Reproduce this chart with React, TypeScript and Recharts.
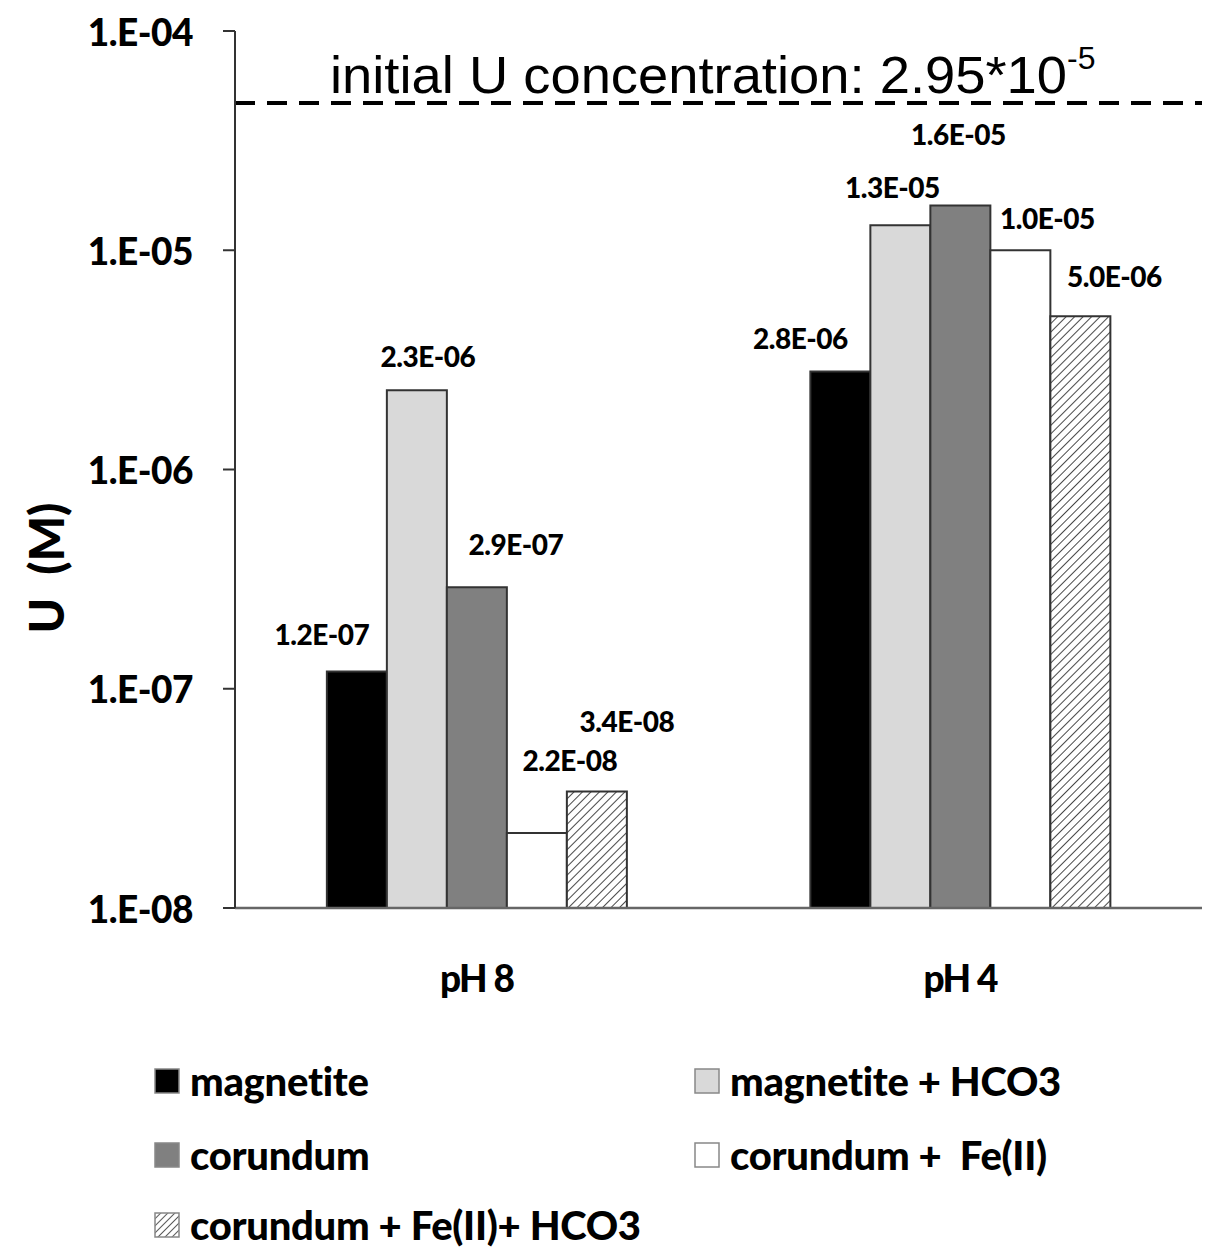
import React from "react";
import { BarChart, Bar, XAxis, YAxis, ReferenceLine, LabelList } from "recharts";

// ---- data ----
const categories = ["pH 8", "pH 4"];
const seriesNames = [
  "magnetite",
  "magnetite + HCO3",
  "corundum",
  "corundum +  Fe(II)",
  "corundum + Fe(II)+ HCO3",
];
const magnetite = [1.2e-7, 2.8e-6];
const magnetiteHCO3 = [2.3e-6, 1.3e-5];
const corundum = [2.9e-7, 1.6e-5];
const corundumFe = [2.2e-8, 1.0e-5];
const corundumFeHCO3 = [3.4e-8, 5.0e-6];
const yTicks = [1e-8, 1e-7, 1e-6, 1e-5, 1e-4];
const yTickLabels = ["1.E-08", "1.E-07", "1.E-06", "1.E-05", "1.E-04"];
const initialLineLevel = 4.7e-5; // where the dashed line is drawn
const initialLabelMain = "initial U concentration: 2.95*10";
const initialLabelExp = "-5";
const yAxisTitle = "U  (M)";

const seriesValues = [magnetite, magnetiteHCO3, corundum, corundumFe, corundumFeHCO3];
const keys = ["s0", "s1", "s2", "s3", "s4"];
const data = categories.map((c, i) => {
  const row: any = { name: c };
  keys.forEach((k, j) => (row[k] = seriesValues[j][i]));
  return row;
});

// ---- styles ----
const fills = ["#000000", "#d9d9d9", "#808080", "#ffffff", "url(#hatch)"];
const boldFont = "Lato, 'Open Sans', sans-serif";
// label offsets (dx, dy) from bar top-center for each series per category
const labelOffsets = [
  [[-35, -37], [-40, -33]],
  [[11, -34], [-8, -38]],
  [[39, -43], [-2, -71]],
  [[33, -73], [27, -32]],
  [[30, -70], [34, -40]],
];

const fmt = (v: number) => {
  const [m, e] = v.toExponential(1).split("e");
  const n = parseInt(e, 10);
  const sign = n < 0 ? "-" : "+";
  const abs = Math.abs(n);
  return `${m}E${sign}${abs < 10 ? "0" + abs : abs}`;
};

const makeLabel = (si: number) => (props: any) => {
  const { x, y, width, value, index } = props;
  const [dx, dy] = labelOffsets[si][index];
  return (
    <text
      x={x + width / 2 + dx}
      y={y + dy}
      textAnchor="middle"
      dominantBaseline="central"
      fontFamily={boldFont}
      fontWeight={900}
      fontSize={28}
      letterSpacing={-0.5}
      fill="#000"
    >
      {fmt(value)}
    </text>
  );
};

const YTick = (props: any) => {
  const { x, y, payload } = props;
  const idx = yTicks.indexOf(payload.value);
  return (
    <text
      x={x}
      y={y}
      textAnchor="end"
      dominantBaseline="central"
      fontFamily={boldFont}
      fontWeight={900}
      fontSize={37}
      letterSpacing={-0.5}
      fill="#000"
    >
      {idx >= 0 ? yTickLabels[idx] : ""}
    </text>
  );
};

const XTick = (props: any) => {
  const { x, y, payload } = props;
  return (
    <text
      x={x}
      y={y + 84}
      textAnchor="middle"
      fontFamily={boldFont}
      fontWeight={900}
      fontSize={37}
      letterSpacing={-1.5}
      fill="#000"
    >
      {payload.value}
    </text>
  );
};

const InitLabel = (props: any) => {
  const vb = props.viewBox || {};
  return (
    <text
      x={vb.x + 95}
      y={vb.y - 10}
      fontFamily="'Liberation Sans', Arial, sans-serif"
      fontSize={52}
      fill="#000"
    >
      <tspan textLength={737} lengthAdjust="spacingAndGlyphs">{initialLabelMain}</tspan>
      <tspan dy={-24} fontSize={32}>{initialLabelExp}</tspan>
    </text>
  );
};

const Swatch = ({ i }: { i: number }) => (
  <svg width={26} height={26} style={{ marginRight: 10, flex: "none" }}>
    <defs>
      <pattern id={`lhatch${i}`} patternUnits="userSpaceOnUse" width={5} height={5} patternTransform="rotate(45)">
        <line x1={0} y1={0} x2={0} y2={5} stroke="#333" strokeWidth={1.6} />
      </pattern>
    </defs>
    <rect
      x={1}
      y={1}
      width={24}
      height={24}
      fill={i === 4 ? `url(#lhatch${i})` : fills[i]}
      stroke="#888"
      strokeWidth={1.5}
    />
  </svg>
);

const legendPos = [
  { left: 146, top: 1055 },
  { left: 686, top: 1055 },
  { left: 146, top: 1129 },
  { left: 686, top: 1129 },
  { left: 146, top: 1199 },
];

export default function App() {
  return (
    <div style={{ position: "relative", width: 1210, height: 1242, background: "#fff" }}>
      <BarChart
        width={1210}
        height={1000}
        data={data}
        margin={{ top: 23, right: 16, bottom: 40, left: 0 }}
        barCategoryGap="19%"
        barGap={0}
      >
        <defs>
          <pattern id="hatch" patternUnits="userSpaceOnUse" width={6} height={6} patternTransform="rotate(45)">
            <rect x={0} y={0} width={6} height={6} fill="#fff" />
            <line x1={0} y1={0} x2={0} y2={6} stroke="#333" strokeWidth={1.8} />
          </pattern>
        </defs>
        <XAxis
          dataKey="name"
          tickLine={false}
          tickSize={0}
          tickMargin={0}
          tick={<XTick />}
          axisLine={{ stroke: "#666", strokeWidth: 2.5 }}
          height={60}
        />
        <YAxis
          scale="log"
          domain={[1e-8, 1e-4]}
          ticks={yTicks}
          allowDataOverflow
          width={227}
          tickSize={12}
          tickMargin={30}
          tick={<YTick />}
          tickLine={{ stroke: "#333", strokeWidth: 2 }}
          axisLine={{ stroke: "#333", strokeWidth: 2 }}
        />
        {keys.map((k, i) => (
          <Bar
            key={k}
            dataKey={k}
            name={seriesNames[i]}
            fill={fills[i]}
            stroke="#333"
            strokeWidth={2}
            isAnimationActive={false}
          >
            <LabelList dataKey={k} content={makeLabel(i)} />
          </Bar>
        ))}
        <ReferenceLine
          y={initialLineLevel}
          stroke="#000"
          strokeWidth={4}
          strokeDasharray="20 12"
          label={<InitLabel />}
        />
        <text
          x={37}
          y={560}
          transform="rotate(-90 37 560)"
          textAnchor="middle"
          dominantBaseline="central"
          fontFamily={boldFont}
          fontWeight={900}
          fontSize={48}
          style={{ whiteSpace: "pre" }}
          fill="#000"
        >
          {yAxisTitle}
        </text>
      </BarChart>
      {seriesNames.map((n, i) => (
        <div
          key={n}
          style={{
            position: "absolute",
            left: legendPos[i].left,
            top: legendPos[i].top,
            display: "flex",
            alignItems: "center",
            fontFamily: boldFont,
            fontWeight: 900,
            fontSize: 40,
            letterSpacing: -0.3,
            whiteSpace: "pre",
            lineHeight: "36px",
          }}
        >
          <Swatch i={i} />
          <span>{n}</span>
        </div>
      ))}
    </div>
  );
}
